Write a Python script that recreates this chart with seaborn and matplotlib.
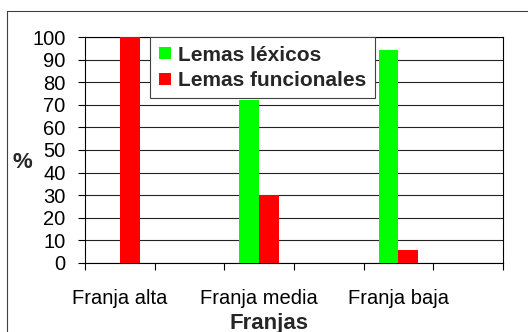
import matplotlib
matplotlib.use("Agg")
import matplotlib.pyplot as plt
from matplotlib.lines import Line2D
import seaborn as sns
import pandas as pd

# ---- data ----
categories = ["Franja alta", "Franja media", "Franja baja"]
lexicos = [0, 72, 94.5]
funcionales = [100, 30, 5.5]
series_names = ["Lemas léxicos", "Lemas funcionales"]
slot_order = ["Franja alta", "_gap1", "Franja media", "_gap2", "Franja baja", "_gap3"]
tick_labels = ["Franja alta", "", "Franja media", "", "Franja baja", ""]
y_ticks = [0, 10, 20, 30, 40, 50, 60, 70, 80, 90, 100]
colors = ["#00FF00", "#FF0000"]

rows = []
for c, a, b in zip(categories, lexicos, funcionales):
    rows.append({"Franja": c, "Serie": series_names[0], "Valor": a})
    rows.append({"Franja": c, "Serie": series_names[1], "Valor": b})
df = pd.DataFrame(rows)

sns.set_style("white")
plt.rcParams["font.family"] = ["Liberation Sans", "DejaVu Sans"]

W, H = 528, 332
fig = plt.figure(figsize=(W / 100, H / 100), dpi=100)
L, R, T, B = 85, 503, 37.3, 262.7
ax = fig.add_axes([L / W, 1 - B / H, (R - L) / W, (B - T) / H])

sns.barplot(data=df, x="Franja", y="Valor", hue="Serie", order=slot_order,
            hue_order=series_names, palette=colors, width=0.574,
            linewidth=0, saturation=1, ax=ax, zorder=3, legend=False)

ax.set_xlim(-0.5, 5.5)
ax.set_ylim(0, 100)
ax.set_yticks(y_ticks)
ax.set_yticklabels([str(v) for v in y_ticks])
ax.set_xticks(range(len(slot_order)))
ax.set_xticklabels(tick_labels)
ax.set_xticks([i - 0.5 for i in range(len(slot_order) + 1)], minor=True)

ax.tick_params(axis="x", which="major", length=0, pad=19, labelsize=14.5,
               colors="black", bottom=True)
ax.tick_params(axis="x", which="minor", length=5, width=0.8, direction="out",
               color="black", bottom=True)
ax.tick_params(axis="y", which="major", length=5, width=0.8, direction="out",
               pad=9, labelsize=14.5, colors="black", left=True)

ax.yaxis.grid(True, color="#222222", linewidth=0.8, zorder=0)
ax.xaxis.grid(False)
ax.set_axisbelow(True)
for s in ax.spines.values():
    s.set_visible(True)
    s.set_color("black")
    s.set_linewidth(0.8)

ax.set_xlabel("Franjas", fontsize=16, fontweight="bold")
ax.xaxis.set_label_coords((269 - L) / (R - L), (B - 323) / (B - T))
ax.xaxis.label.set_va("center")
ax.set_ylabel("%", fontsize=16, fontweight="bold", rotation=0)
ax.yaxis.set_label_coords((22 - L) / (R - L), (B - 162) / (B - T))
ax.yaxis.label.set_va("center")
ax.yaxis.label.set_ha("center")

handles = [Line2D([0], [0], marker="s", linestyle="none", markersize=8.6,
                  markerfacecolor=c, markeredgewidth=0) for c in colors]
leg = ax.legend(handles, series_names, loc="upper left",
                bbox_to_anchor=((150 - L) / (R - L), 1.0), borderaxespad=0,
                prop={"weight": "bold", "size": 15}, frameon=True, fancybox=False,
                handlelength=0.6, handletextpad=0.35, labelspacing=0.3,
                borderpad=0.4, framealpha=1)
leg.get_frame().set_edgecolor("#404040")
leg.get_frame().set_linewidth(0.8)
leg.set_zorder(5)

# outer chart-area frame
fig.add_artist(Line2D([7 / W, 7 / W], [0, 1 - 11 / H], color="#404040", linewidth=0.8))
fig.add_artist(Line2D([7 / W, 1], [1 - 11 / H, 1 - 11 / H], color="#404040", linewidth=0.8))

fig.savefig("out.png", dpi=100)
